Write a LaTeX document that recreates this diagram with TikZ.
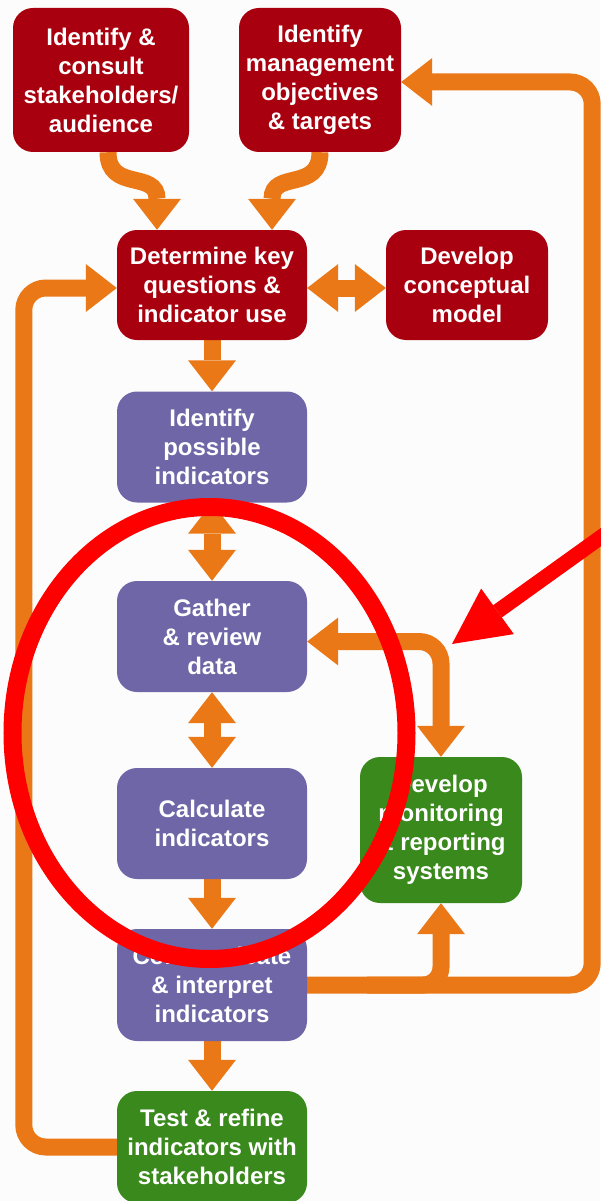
\documentclass[tikz,border=0pt]{standalone}
\usepackage{fontspec}
\setmainfont{Liberation Sans}
\usetikzlibrary{arrows.meta}
\definecolor{dred}{HTML}{A8000E}
\definecolor{purp}{HTML}{6F66A7}
\definecolor{grn}{HTML}{3A891C}
\definecolor{orng}{HTML}{EA7816}
\definecolor{bgc}{HTML}{FCFCFC}
\pgfdeclarelayer{back}
\pgfdeclarelayer{links}
\pgfsetlayers{back,links,main}
\tikzset{
  box/.style={rounded corners=20pt, inner sep=0pt, align=center, text=white,
    font=\fontsize{24}{29}\selectfont\bfseries},
  redbox/.style={box, fill=dred},
  purbox/.style={box, fill=purp, minimum width=190pt, minimum height=111pt},
  grnbox/.style={box, fill=grn},
  flow/.style={draw=orng, line width=17pt,
    -{Triangle[width=48pt,length=31pt,line width=0pt]}},
  flowtwo/.style={draw=orng, line width=17pt,
    {Triangle[width=48pt,length=31pt,line width=0pt]}-{Triangle[width=48pt,length=31pt,line width=0pt]}},
  loopline/.style={flow, rounded corners=22pt},
  redring/.style={draw=red, line width=18pt},
}
\begin{document}
\begin{tikzpicture}[x=1pt,y=-1pt]
\useasboundingbox (0,0) rectangle (600,1201);
\begin{pgfonlayer}{back}
  \fill[bgc] (0,0) rectangle (600,1201);
\end{pgfonlayer}

\node[redbox, minimum width=176pt, minimum height=144pt] (A) at (101,80) {Identify \&\\consult\\stakeholders/\\audience};
\node[redbox, minimum width=162pt, minimum height=144pt] (B) at (320,80) {Identify\\management\\objectives\\\& targets};
\node[redbox, minimum width=190pt, minimum height=110pt] (C) at (212,285) {Determine key\\questions \&\\indicator use};
\node[redbox, minimum width=162pt, minimum height=110pt] (D) at (467,285) {Develop\\conceptual\\model};
\node[purbox] (E) at (212,447) {Identify\\possible\\indicators};
\node[purbox] (F) at (212,636.5) {Gather\\\& review\\data};
\node[purbox] (G) at (212,823.5) {Calculate\\indicators};
\node[purbox, minimum height=112pt] (H) at (212,985) {Communicate\\\& interpret\\indicators};
\node[grnbox, minimum width=190pt, minimum height=112pt] (I) at (212,1147) {Test \& refine\\indicators with\\stakeholders};
\node[grnbox, minimum width=162pt, minimum height=146pt] (J) at (441,830) {Develop\\monitoring\\\& reporting\\systems};

\begin{pgfonlayer}{links}
  \draw[flow] ([xshift=7pt]A.south) .. controls +(0,40) and +(0,-60) .. ([xshift=-55pt]C.north);
  \draw[flow] (B.south) .. controls +(0,40) and +(0,-60) .. ([xshift=60pt]C.north);
  \draw[flowtwo] ([yshift=-3pt]C.east) -- ([yshift=-3pt]D.west);
  \draw[flow] (C.south) -- (E.north);
  \draw[flowtwo] (E.south) -- (F.north);
  \draw[flowtwo] (F.south) -- (G.north);
  \draw[flow] (G.south) -- (H.north);
  \draw[flow] (H.south) -- (I.north);
  \draw[loopline] (I.west) -- ++(-93,0) |- ([yshift=-3pt]C.west);
  \draw[loopline] (H.east) -- ++(285,0) |- ([yshift=-2pt]B.east);
  \draw[loopline, rounded corners=18pt] ([xshift=60pt]H.east) -| (J.south);
  \draw[flowtwo, rounded corners=22pt] ([yshift=-5pt]F.east) -| (J.north);
\end{pgfonlayer}

\draw[redring] (209.5,733) ellipse [x radius=197, y radius=226];
\coordinate (redstart) at (622,522);
\coordinate (redtip) at (452,644);
\draw[draw=red, line width=15pt, -{Triangle[width=56pt,length=56pt,line width=0pt]}] (redstart) -- (redtip);
\end{tikzpicture}
\end{document}
